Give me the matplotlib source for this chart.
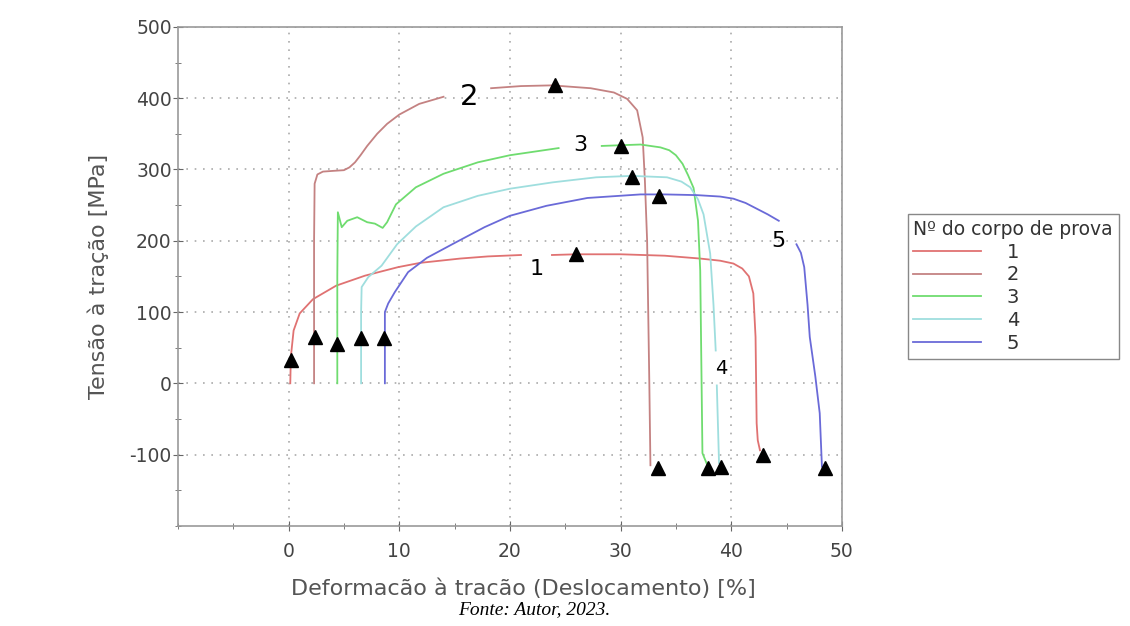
import matplotlib.pyplot as plt
import numpy as np

plt.rcParams['axes.unicode_minus'] = False
nan = np.nan

# Curvas tensão x deformação
x1 = [0.15, 0.2, 0.45, 1.0, 2.2, 4.3, 6.9, 9.9, 11.9, 15.5, 18.0, 21.0, nan,
      23.8, 26.0, 30.0, 34.0, 37.2, 39.0, 40.2, 41.0, 41.6, 42.0, 42.2, 42.3, 42.4, 42.6]
y1 = [0, 37, 74, 98, 118, 137, 151, 163, 169, 175, 178, 180, nan,
      180, 181, 181, 179, 175, 172, 168, 161, 150, 126, 65, -56, -80, -94]

x2 = [2.3, 2.3, 2.35, 2.6, 3.1, 4.0, 5.0, 5.5, 6.0, 6.5, 7.1, 8.0, 8.9, 10.0, 11.8, 14.0, nan,
      18.3, 21.0, 23.8, 27.3, 29.4, 30.6, 31.5, 32.0, 32.2, 32.4, 32.5, 32.6, 32.7]
y2 = [0, 200, 280, 293, 297, 298, 299, 303, 310, 320, 333, 350, 364, 377, 392, 402, nan,
      414, 417, 418, 414, 408, 399, 383, 345, 284, 200, 100, 0, -115]

x3 = [4.4, 4.4, 4.45, 4.8, 5.3, 6.2, 7.1, 7.8, 8.5, 8.9, 9.7, 11.5, 14.0, 17.1, 20.0, 24.4, nan,
      28.3, 30.0, 31.8, 33.6, 34.4, 35.0, 35.6, 36.1, 36.6, 37.0, 37.2, 37.4, 37.9]
y3 = [0, 150, 240, 219, 228, 233, 226, 224, 218, 226, 251, 275, 294, 310, 320, 330, nan,
      333, 334, 335, 331, 327, 320, 308, 292, 274, 228, 158, -98, -117]

x4 = [6.55, 6.55, 6.6, 7.2, 8.4, 9.8, 11.5, 14.0, 17.1, 20.0, 23.9, 27.8, 31.0, 34.2, 35.5,
      36.3, 37.0, 37.5, 38.1, 38.4, 38.6, nan, 38.7, 38.9]
y4 = [0, 100, 135, 149, 165, 195, 220, 247, 263, 273, 282, 289, 291, 289, 283,
      275, 258, 237, 182, 110, 46, nan, -3, -112]

x5 = [8.7, 8.7, 9.0, 9.6, 10.8, 12.5, 14.9, 17.7, 20.0, 23.3, 27.0, 31.8, 34.0, 36.9, 39.0,
      40.2, 41.3, 42.3, 43.3, 44.3, nan, 45.9, 46.3, 46.6, 46.9, 47.1, 47.6, 48.0, 48.2]
y5 = [0, 100, 112, 128, 156, 176, 196, 219, 235, 249, 260, 265, 265, 264, 262,
      259, 253, 245, 237, 228, nan, 195, 183, 163, 110, 65, 10, -42, -117]

# Marcadores (triângulos)
mk_x = [0.2, 2.35, 4.4, 6.55, 8.65, 24.1, 30.0, 31.05, 33.45, 26.0,
        33.4, 37.9, 39.1, 42.9, 48.5]
mk_y = [32, 65, 55, 63, 63, 418, 333, 289, 263, 181,
        -119, -119, -117, -101, -119]

# Rótulos das curvas
lab_txt = ['1', '2', '3', '4', '5']
lab_x = [22.4, 16.3, 26.4, 39.1, 44.3]
lab_y = [161, 401, 334, 21, 200]
lab_fs = [16, 21, 16, 14, 16]

cores = ['#e07272', '#c48282', '#6fdc6f', '#9fdede', '#6a6ad8']
series = [(x1, y1), (x2, y2), (x3, y3), (x4, y4), (x5, y5)]

fig = plt.figure(figsize=(11.3, 6.26), dpi=100)
ax = fig.add_axes([0.1575, 0.16, 0.5875, 0.797])

for i, (xs, ys) in enumerate(series):
    ax.plot(xs, ys, color=cores[i], lw=1.3, label=lab_txt[i])

ax.plot(mk_x, mk_y, linestyle='none', marker='^', color='black', markersize=10, zorder=5)

for t, x, y, fs in zip(lab_txt, lab_x, lab_y, lab_fs):
    ax.text(x, y, t, fontsize=fs, ha='center', va='center', color='black', zorder=6)

ax.set_xlim(-10, 50)
ax.set_ylim(-200, 500)
ax.set_xticks([0, 10, 20, 30, 40, 50])
ax.set_yticks([-100, 0, 100, 200, 300, 400, 500])
ax.set_xticks(np.arange(-10, 51, 5), minor=True)
ax.set_yticks(np.arange(-200, 501, 50), minor=True)
ax.tick_params(which='both', direction='inout', colors='#666666', labelcolor='#444444',
               labelsize=13.5)
ax.tick_params(which='major', length=7)
ax.tick_params(which='minor', length=5)
ax.tick_params(axis='x', pad=8)
ax.tick_params(axis='y', pad=1)

ax.grid(True, which='major', linestyle=(0, (1, 4)), color='#aaaaaa', lw=1.2)
for s in ax.spines.values():
    s.set_color('#999999')
    s.set_linewidth(1.2)

ax.set_xlabel('Deformacão à tracão (Deslocamento) [%]', fontsize=16, color='#555555')
ax.set_ylabel('Tensão à tração [MPa]', fontsize=16, color='#555555')
ax.xaxis.set_label_coords(0.52, -0.105)
ax.yaxis.set_label_coords(-0.104, 0.5)

leg = ax.legend(title='Nº do corpo de prova', loc='center left', bbox_to_anchor=(1.099, 0.48),
                fontsize=14, title_fontsize=13.5, handlelength=3.5, handletextpad=1.3,
                labelspacing=0.2, fancybox=False, edgecolor='#888888', framealpha=1,
                borderpad=0.3, borderaxespad=0)
leg._legend_box.align = 'left'
leg.get_title().set_color('#333333')
for t in leg.get_texts():
    t.set_color('#333333')

fig.text(0.473, 0.0256, 'Fonte: Autor, 2023.', fontsize=14, fontstyle='italic',
         family='Liberation Serif', ha='center', va='center')

fig.savefig('out.png', dpi=100, facecolor='white')
